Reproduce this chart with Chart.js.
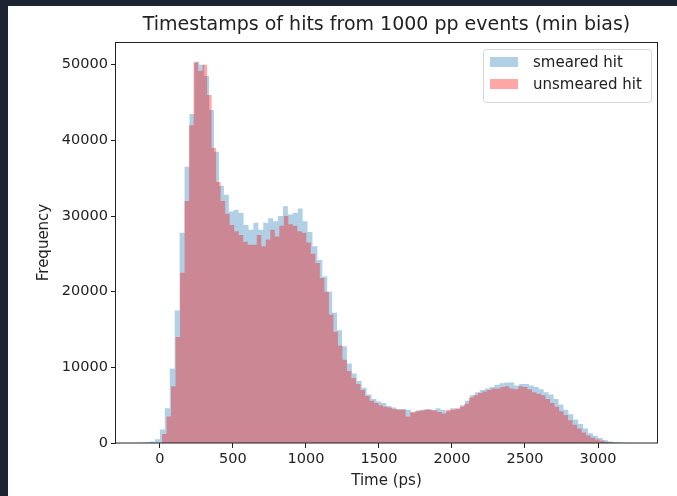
<!DOCTYPE html>
<html>
<head>
<meta charset="utf-8">
<script src="https://cdn.jsdelivr.net/npm/chart.js@4"></script>
<style>
  html, body { margin: 0; padding: 0; background: #1c2331; width: 677px; height: 496px; overflow: hidden; }
  #fig { position: absolute; left: 8px; top: 6px; width: 669px; height: 490px; background: #fff; }
</style>
</head>
<body>
<div id="fig"><canvas id="histChart" width="669" height="490"></canvas></div>
<script>
// histogram bins (ps)
const smearedStart = -135;
const smearedBinWidth = 33.7;
const unsmearedStart = 14;
const unsmearedBinWidth = 30.9;

// counts per bin
const smearedCounts = [
  30, 100, 200, 500, 1800, 4600, 9800, 17500, 27800, 36500,
  43500, 50400, 50000, 48500, 44000, 38500, 34000, 32800, 30600, 30800,
  30400, 28800, 28200, 29100, 28200, 29100, 29700, 29300, 30000, 31300,
  30200, 30400, 31000, 29300, 27900, 26000, 24200, 22000, 20000, 17200,
  14900, 12800, 10500, 9200, 8200, 7300, 6400, 5800, 5500, 5300,
  4900, 4700, 4500, 4500, 4400, 4000, 4300, 4400, 4500, 4400,
  4600, 4400, 4200, 4600, 4500, 5000, 5600, 6300, 6700, 7000,
  7200, 7400, 7700, 7900, 8000, 8000, 7600, 7800, 7800, 7600,
  7400, 7100, 6700, 6400, 5800, 5100, 4400, 3800, 3100, 2500,
  1900, 1300, 950, 650, 400, 200, 120, 60, 30, 10
];
const unsmearedCounts = [
  1200, 3500, 7500, 14000, 22500, 32000, 42000, 50300, 49200, 50000,
  46000, 39000, 34500, 32000, 30300, 28800, 28000, 27500, 26600, 26200,
  26200, 27500, 26000, 26900, 28200, 27300, 28700, 30000, 28900, 28700,
  28000, 27800, 26500, 25000, 23800, 21800, 20000, 17000, 14700, 12900,
  11000, 9500, 8600, 7800, 7000, 6200, 5600, 5300, 5000, 4800,
  4700, 4500, 4400, 4400, 3500, 4100, 4200, 4300, 4400, 4400,
  4300, 4100, 3900, 4400, 4400, 4600, 4800, 5200, 6000, 6300,
  6600, 6800, 7000, 7200, 7200, 7400, 7500, 7200, 7100, 7500,
  7400, 7100, 6700, 6500, 6300, 5800, 5300, 4800, 4200, 3700,
  3000, 2400, 1900, 1400, 1000, 700, 450, 300, 150, 60
];

const seriesLabels = ['smeared hit', 'unsmeared hit'];
const xTicks = [0, 500, 1000, 1500, 2000, 2500, 3000];
const yTicks = [0, 10000, 20000, 30000, 40000, 50000];

// one point per left bin edge, plus the closing right edge
function histPoints(start, width, counts) {
  const pts = counts.map((c, i) => ({ x: start + i * width, y: c }));
  pts.push({ x: start + counts.length * width, y: 0 });
  return pts;
}

const FONT = 'DejaVu Sans';

// top/right spines
const framePlugin = {
  id: 'frame',
  afterDatasetsDraw(chart) {
    const { ctx, chartArea: a } = chart;
    ctx.save();
    ctx.strokeStyle = '#222';
    ctx.lineWidth = 1;
    ctx.strokeRect(Math.round(a.left) - 0.5, Math.round(a.top) + 0.5,
      Math.round(a.right - a.left) + 1, Math.round(a.bottom - a.top) - 0.5);
    ctx.restore();
  }
};

// legend box in the upper right, like matplotlib
const legendPlugin = {
  id: 'boxLegend',
  afterDraw(chart) {
    const { ctx, chartArea: a } = chart;
    const w = 168, h = 53;
    const x0 = a.right - 6 - w, y0 = a.top + 7;
    ctx.save();
    ctx.beginPath();
    ctx.roundRect(x0 + 0.5, y0 + 0.5, w, h, 3);
    ctx.fillStyle = 'rgba(255,255,255,0.8)';
    ctx.fill();
    ctx.strokeStyle = '#d6d6d6';
    ctx.lineWidth = 1;
    ctx.stroke();
    ctx.font = '15px "' + FONT + '"';
    ctx.textBaseline = 'middle';
    chart.data.datasets.slice().sort((p, q) => p.legendIndex - q.legendIndex).forEach((ds, i) => {
      const cy = y0 + 13 + i * 22;
      ctx.fillStyle = ds.backgroundColor;
      ctx.fillRect(x0 + 7, cy - 5, 28, 10);
      ctx.fillStyle = '#222';
      ctx.fillText(ds.label, x0 + 50, cy + 1);
    });
    ctx.restore();
  }
};

const ctx = document.getElementById('histChart').getContext('2d');
const histChart = new Chart(ctx, {
  type: 'line',
  data: {
    datasets: [
      {
        label: seriesLabels[0],
        legendIndex: 0,
        data: histPoints(smearedStart, smearedBinWidth, smearedCounts),
        backgroundColor: 'rgba(31, 119, 180, 0.35)',
        borderColor: 'transparent',
        borderWidth: 0,
        stepped: true,
        fill: 'origin',
        pointRadius: 0,
        order: 2
      },
      {
        label: seriesLabels[1],
        legendIndex: 1,
        data: histPoints(unsmearedStart, unsmearedBinWidth, unsmearedCounts),
        backgroundColor: 'rgba(255, 0, 0, 0.35)',
        borderColor: 'transparent',
        borderWidth: 0,
        stepped: true,
        fill: 'origin',
        pointRadius: 0,
        order: 1
      }
    ]
  },
  options: {
    responsive: false,
    animation: false,
    layout: { padding: { left: 0, right: 20, top: 0, bottom: 0 } },
    plugins: {
      legend: { display: false },
      tooltip: { enabled: false },
      title: {
        display: true,
        fullSize: false,
        text: 'Timestamps of hits from 1000 pp events (min bias)',
        color: '#222',
        font: { family: FONT, size: 19, weight: 'normal' },
        padding: { top: 7.6, bottom: 5.6 }
      }
    },
    scales: {
      x: {
        type: 'linear',
        min: -301,
        max: 3404,
        afterFit(scale) { scale.height = 53; },
        afterBuildTicks(scale) { scale.ticks = xTicks.map(v => ({ value: v })); },
        grid: { drawOnChartArea: false, drawTicks: true, tickLength: 5, color: '#222' },
        border: { display: false },
        ticks: { color: '#222', padding: 3, maxRotation: 0, font: { family: FONT, size: 14.5 }, callback: v => String(v) },
        title: { display: true, text: 'Time (ps)', color: '#222', font: { family: FONT, size: 15 }, padding: { top: 0, bottom: 6 } }
      },
      y: {
        min: 0,
        max: 53000,
        afterFit(scale) { scale.width = 108; },
        afterBuildTicks(scale) { scale.ticks = yTicks.map(v => ({ value: v })); },
        grid: { drawOnChartArea: false, drawTicks: true, tickLength: 5, color: '#222' },
        border: { display: false },
        ticks: { color: '#222', padding: 3, font: { family: FONT, size: 14.5 }, callback: v => String(v) },
        title: { display: true, text: 'Frequency', color: '#222', font: { family: FONT, size: 15 }, padding: { top: 27, bottom: 0 } }
      }
    }
  },
  plugins: [framePlugin, legendPlugin]
});
</script>
</body>
</html>
